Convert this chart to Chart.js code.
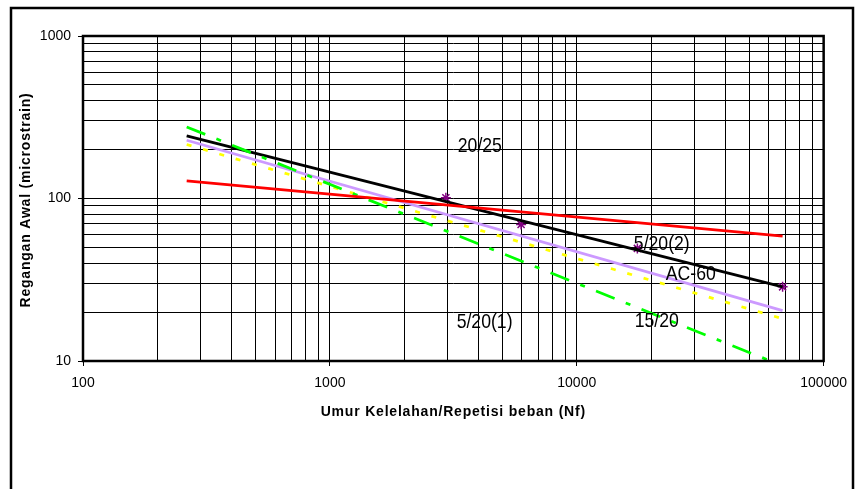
<!DOCTYPE html>
<html lang="en">
<head>
    <meta charset="UTF-8">
    <title>Regangan Awal vs Umur Kelelahan</title>
    <style>
        body {
            margin: 0;
            padding: 0;
            background-color: #ffffff;
        }
        #chart {
            display: block;
        }
    </style>
</head>
<body>
    <canvas id="chart" width="856" height="489"></canvas>

    <script src="https://cdn.jsdelivr.net/npm/chart.js"></script>
    <script>
        // fatigue lines (two end points each, log-log)
        const lineX = [263, 68200];
        const red20_25 = [128.4, 58.7];
        const blackAC60 = [242.8, 28.6];
        const purple = [228.4, 20.4];
        const yellow = [214.9, 18.2];
        const green = [275.7, 9.34];

        // measured points (purple stars)
        const pointX = [2950, 5950, 17600, 68200];
        const pointY = [101, 69.3, 49.3, 28.6];

        // text labels on the plot
        const labelText = ['20/25', '5/20(2)', 'AC-60', '5/20(1)', '15/20'];
        const labelX = [4050, 22100, 28970, 4233, 21100];
        const labelY = [210, 52.4, 34.0, 17.4, 17.6];

        const xTicks = [];
        for (let p = 100; p < 100000; p *= 10) {
            for (let m = 1; m <= 9; m++) xTicks.push(m * p);
        }
        xTicks.push(100000);
        const yTicks = [];
        for (let p = 10; p < 1000; p *= 10) {
            for (let m = 1; m <= 9; m++) yTicks.push(m * p);
        }
        yTicks.push(1000);
        const xLabels = [100, 1000, 10000, 100000];
        const yLabels = [10, 100, 1000];

        const xTitle = 'Umur Kelelahan/Repetisi beban (Nf)';
        const yTitle = 'Regangan Awal (microstrain)';

        const FONT = '"Liberation Sans", Arial, sans-serif';
        Chart.defaults.font.family = FONT;
        Chart.defaults.color = '#000';

        function pairs(xs, ys) {
            return xs.map((x, i) => ({ x: x, y: ys[i] }));
        }

        function lineSet(values, color, dash) {
            return {
                data: pairs(lineX, values),
                showLine: true,
                borderColor: color,
                borderWidth: 2.75,
                borderDash: dash || [],
                pointRadius: 0,
                clip: 0
            };
        }

        const extras = {
            id: 'extras',
            beforeDraw(chart) {
                const ctx = chart.ctx;
                ctx.save();
                ctx.fillStyle = '#fff';
                ctx.fillRect(0, 0, chart.width, chart.height);
                ctx.restore();
            },
            afterDraw(chart) {
                const ctx = chart.ctx;
                const a = chart.chartArea;
                const xs = chart.scales.x;
                const ys = chart.scales.y;
                ctx.save();
                ctx.strokeStyle = '#000';
                ctx.lineWidth = 2.5;
                ctx.strokeRect(a.left, a.top, a.right - a.left, a.bottom - a.top);
                ctx.strokeRect(11, 8, 842, 500);

                ctx.fillStyle = '#000';
                ctx.textAlign = 'center';
                ctx.textBaseline = 'middle';
                ctx.font = 'bold 14px ' + FONT;
                ctx.letterSpacing = '0.8px';
                ctx.fillText(xTitle, (a.left + a.right) / 2, 412);
                ctx.save();
                ctx.translate(26, 200);
                ctx.rotate(-Math.PI / 2);
                ctx.fillText(yTitle, 0, 0);
                ctx.restore();
                ctx.letterSpacing = '0px';

                ctx.font = '21px ' + FONT;
                labelText.forEach((t, i) => {
                    ctx.save();
                    ctx.translate(xs.getPixelForValue(labelX[i]), ys.getPixelForValue(labelY[i]));
                    ctx.scale(0.84, 1);
                    ctx.fillText(t, 0, 0);
                    ctx.restore();
                });
                ctx.restore();
            }
        };

        new Chart(document.getElementById('chart'), {
            type: 'scatter',
            data: {
                datasets: [
                    lineSet(red20_25, '#ff0000'),
                    lineSet(green, '#00ff00', [20, 12, 5, 12]),
                    lineSet(yellow, '#ffff00', [5, 12]),
                    lineSet(purple, '#cc99ff'),
                    lineSet(blackAC60, '#000000'),
                    {
                        data: pairs(pointX, pointY),
                        showLine: false,
                        pointStyle: 'star',
                        pointRadius: 5,
                        borderColor: '#800080',
                        backgroundColor: '#800080',
                        borderWidth: 1.5
                    }
                ]
            },
            options: {
                responsive: false,
                animation: false,
                events: [],
                layout: { padding: { left: 0, top: 36, right: 30, bottom: 0 } },
                plugins: {
                    legend: { display: false },
                    tooltip: { enabled: false }
                },
                scales: {
                    x: {
                        type: 'logarithmic',
                        min: 100,
                        max: 100000,
                        afterBuildTicks: s => { s.ticks = xTicks.map(v => ({ value: v })); },
                        afterFit: s => { s.height = 128; },
                        border: { display: false },
                        grid: {
                            color: '#000',
                            lineWidth: 1,
                            tickLength: 5,
                            tickColor: c => (c.tick && xLabels.includes(c.tick.value)) ? '#000' : 'rgba(0,0,0,0)'
                        },
                        ticks: {
                            autoSkip: false,
                            maxRotation: 0,
                            padding: 9,
                            font: { size: 14 },
                            callback: v => xLabels.includes(v) ? String(v) : ''
                        }
                    },
                    y: {
                        type: 'logarithmic',
                        min: 10,
                        max: 1000,
                        afterBuildTicks: s => { s.ticks = yTicks.map(v => ({ value: v })); },
                        afterFit: s => { s.width = 83; },
                        border: { display: false },
                        grid: {
                            color: '#000',
                            lineWidth: 1,
                            tickLength: 5,
                            tickColor: c => (c.tick && yLabels.includes(c.tick.value)) ? '#000' : 'rgba(0,0,0,0)'
                        },
                        ticks: {
                            autoSkip: false,
                            padding: 7,
                            font: { size: 14 },
                            callback: v => yLabels.includes(v) ? String(v) : ''
                        }
                    }
                }
            },
            plugins: [extras]
        });
    </script>
</body>
</html>
